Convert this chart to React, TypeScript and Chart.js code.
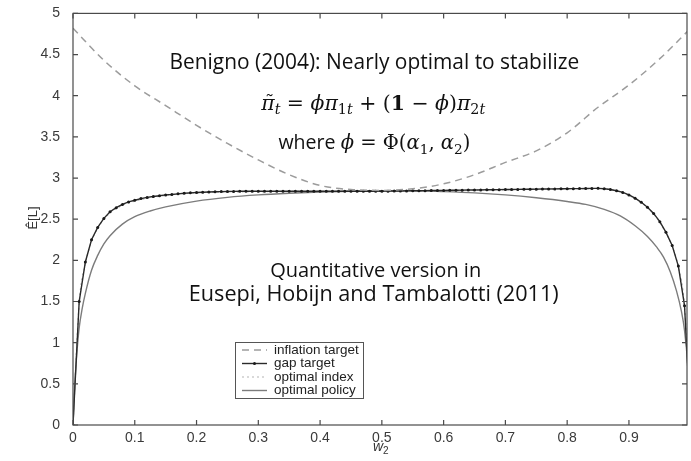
import React, { useEffect, useRef } from "react";
import { Chart, registerables } from "chart.js";

Chart.register(...registerables);

const W = 691;
const H = 461;

// ---- axes ----
const xTicks = [0, 0.1, 0.2, 0.3, 0.4, 0.5, 0.6, 0.7, 0.8, 0.9];
const yTicks = [0, 0.5, 1, 1.5, 2, 2.5, 3, 3.5, 4, 4.5, 5];
const xTitle = "w";
const xTitleSub = "2";
const yTitle = "Ê[L]";

// ---- series ----
const inflationX = [0, 0.05, 0.1, 0.15, 0.2, 0.25, 0.3, 0.35, 0.4, 0.45, 0.5, 0.55, 0.6, 0.65, 0.7, 0.75, 0.8, 0.85, 0.9, 0.95, 1.0];
const inflationY = [4.82, 4.43, 4.12, 3.88, 3.64, 3.42, 3.22, 3.04, 2.91, 2.86, 2.85, 2.87, 2.93, 3.04, 3.19, 3.33, 3.55, 3.86, 4.13, 4.45, 4.82];

const gapX = [
  0, 0.01, 0.02, 0.03, 0.04, 0.05, 0.06, 0.07, 0.08, 0.09,
  0.1, 0.11, 0.12, 0.13, 0.14, 0.15, 0.16, 0.17, 0.18, 0.19,
  0.2, 0.21, 0.22, 0.23, 0.24, 0.25, 0.26, 0.27, 0.28, 0.29,
  0.3, 0.31, 0.32, 0.33, 0.34, 0.35, 0.36, 0.37, 0.38, 0.39,
  0.4, 0.41, 0.42, 0.43, 0.44, 0.45, 0.46, 0.47, 0.48, 0.49,
  0.5, 0.51, 0.52, 0.53, 0.54, 0.55, 0.56, 0.57, 0.58, 0.59,
  0.6, 0.61, 0.62, 0.63, 0.64, 0.65, 0.66, 0.67, 0.68, 0.69,
  0.7, 0.71, 0.72, 0.73, 0.74, 0.75, 0.76, 0.77, 0.78, 0.79,
  0.8, 0.81, 0.82, 0.83, 0.84, 0.85, 0.86, 0.87, 0.88, 0.89,
  0.9, 0.91, 0.92, 0.93, 0.94, 0.95, 0.96, 0.97, 0.98, 0.99, 1.0,
];
const gapY = [
  0, 1.5, 1.98, 2.25, 2.4, 2.51, 2.59, 2.64, 2.68, 2.71,
  2.73, 2.75, 2.765, 2.775, 2.785, 2.795, 2.8, 2.808, 2.815, 2.82,
  2.825, 2.828, 2.831, 2.833, 2.835, 2.837, 2.838, 2.839, 2.84, 2.84,
  2.84, 2.84, 2.84, 2.84, 2.84, 2.84, 2.84, 2.84, 2.84, 2.84,
  2.84, 2.84, 2.84, 2.84, 2.84, 2.84, 2.84, 2.84, 2.84, 2.84,
  2.84, 2.841, 2.842, 2.843, 2.844, 2.845, 2.846, 2.847, 2.848, 2.849,
  2.85, 2.851, 2.852, 2.853, 2.854, 2.855, 2.856, 2.857, 2.858, 2.859,
  2.86, 2.861, 2.862, 2.863, 2.864, 2.865, 2.866, 2.867, 2.868, 2.869,
  2.87, 2.871, 2.872, 2.873, 2.874, 2.875, 2.87, 2.86, 2.845, 2.825,
  2.795, 2.755, 2.705, 2.645, 2.57, 2.47, 2.34, 2.18, 1.93, 1.45, 0,
];

const indexX = [0, 0.01, 0.02, 0.03, 0.05, 0.08, 0.1, 0.15, 0.2, 0.3, 0.4, 0.5, 0.6, 0.7, 0.8, 0.85, 0.9, 0.93, 0.95, 0.97, 0.98, 0.99, 1.0];
const indexY = [0, 1.48, 1.96, 2.23, 2.5, 2.67, 2.72, 2.79, 2.82, 2.835, 2.838, 2.84, 2.848, 2.858, 2.868, 2.872, 2.79, 2.64, 2.46, 2.17, 1.92, 1.44, 0];

const policyX = [0, 0.003, 0.006, 0.01, 0.015, 0.02, 0.03, 0.04, 0.05, 0.06, 0.08, 0.1, 0.125, 0.15, 0.2, 0.25, 0.3, 0.35, 0.4, 0.45, 0.5, 0.55, 0.6, 0.65, 0.7, 0.75, 0.8, 0.83, 0.86, 0.886, 0.91, 0.93, 0.945, 0.956, 0.967, 0.977, 0.985, 0.99, 0.995, 1.0];
const policyY = [0, 0.5, 0.85, 1.18, 1.42, 1.6, 1.88, 2.06, 2.2, 2.3, 2.44, 2.53, 2.6, 2.65, 2.72, 2.765, 2.795, 2.815, 2.83, 2.84, 2.845, 2.845, 2.835, 2.82, 2.795, 2.76, 2.715, 2.68, 2.62, 2.54, 2.42, 2.29, 2.16, 2.04, 1.86, 1.63, 1.38, 1.15, 0.75, 0];

const seriesNames = ["inflation target", "gap target", "optimal index", "optimal policy"];

const headline = "Benigno (2004): Nearly optimal to stabilize";
const noteLine1 = "Quantitative version in";
const noteLine2 = "Eusepi, Hobijn and Tambalotti (2011)";

const pts = (xs: number[], ys: number[]) => xs.map((x, i) => ({ x, y: ys[i] }));

const SANS = "Open Sans";
const MATH = "DejaVu Serif";
const TICKF = "Liberation Sans";

type Seg = { t: string; fam: string; it?: boolean; bold?: boolean; sc?: number; dy?: number; accent?: string };

function segFont(s: Seg, size: number) {
  return `${s.it ? "italic " : ""}${s.bold ? "bold " : ""}${(size * (s.sc || 1)).toFixed(2)}px "${s.fam}"`;
}

function drawRich(ctx: CanvasRenderingContext2D, segs: Seg[], cx: number, base: number, targetW: number) {
  const probe = 20;
  let w = 0;
  for (const s of segs) {
    ctx.font = segFont(s, probe);
    w += ctx.measureText(s.t).width;
  }
  const size = (probe * targetW) / w;
  let x = cx - targetW / 2;
  ctx.textAlign = "left";
  ctx.textBaseline = "alphabetic";
  for (const s of segs) {
    ctx.font = segFont(s, size);
    const sw = ctx.measureText(s.t).width;
    ctx.fillText(s.t, x, base + (s.dy || 0) * size);
    if (s.accent) {
      ctx.font = `${(size * 0.9).toFixed(2)}px "${MATH}"`;
      const aw = ctx.measureText(s.accent).width;
      ctx.fillText(s.accent, x + sw / 2 - aw / 2 + size * 0.08, base - size * 0.1);
    }
    x += sw;
  }
}

const framePlugin = {
  id: "frame",
  afterDatasetsDraw(chart: any) {
    const { ctx, chartArea: a, scales } = chart;
    ctx.save();
    ctx.strokeStyle = "#4a4a4a";
    ctx.lineWidth = 1.2;
    ctx.strokeRect(a.left, a.top, a.right - a.left, a.bottom - a.top);
    const L = 5;
    ctx.beginPath();
    xTicks.forEach((v) => {
      const px = scales.x.getPixelForValue(v);
      ctx.moveTo(px, a.bottom);
      ctx.lineTo(px, a.bottom - L);
      ctx.moveTo(px, a.top);
      ctx.lineTo(px, a.top + L);
    });
    yTicks.forEach((v) => {
      const py = scales.y.getPixelForValue(v);
      ctx.moveTo(a.left, py);
      ctx.lineTo(a.left + L, py);
      ctx.moveTo(a.right, py);
      ctx.lineTo(a.right - L, py);
    });
    ctx.stroke();
    ctx.restore();
  },
};

const textPlugin = {
  id: "texts",
  afterDraw(chart: any) {
    const { ctx, scales, chartArea: a } = chart;
    const X = (v: number) => scales.x.getPixelForValue(v);
    const Y = (v: number) => scales.y.getPixelForValue(v);
    ctx.save();
    ctx.fillStyle = "#111";

    // headline and notes
    drawRich(ctx, [{ t: headline, fam: SANS }], X(0.488), Y(4.33), 410);
    drawRich(
      ctx,
      [
        { t: "π", fam: MATH, it: true, accent: "˜" },
        { t: "t", fam: MATH, it: true, sc: 0.7, dy: 0.22 },
        { t: " = ", fam: MATH },
        { t: "ϕπ", fam: MATH, it: true },
        { t: "1", fam: MATH, sc: 0.7, dy: 0.22 },
        { t: "t", fam: MATH, it: true, sc: 0.7, dy: 0.22 },
        { t: " + (", fam: MATH },
        { t: "1", fam: MATH, bold: true },
        { t: " − ", fam: MATH },
        { t: "ϕ", fam: MATH, it: true },
        { t: ")", fam: MATH },
        { t: "π", fam: MATH, it: true },
        { t: "2", fam: MATH, sc: 0.7, dy: 0.22 },
        { t: "t", fam: MATH, it: true, sc: 0.7, dy: 0.22 },
      ],
      X(0.486),
      Y(3.83),
      224
    );
    drawRich(
      ctx,
      [
        { t: "where ", fam: SANS },
        { t: "ϕ", fam: MATH, it: true },
        { t: " = Φ(", fam: MATH },
        { t: "α", fam: MATH, it: true },
        { t: "1", fam: MATH, sc: 0.7, dy: 0.22 },
        { t: ", ", fam: MATH },
        { t: "α", fam: MATH, it: true },
        { t: "2", fam: MATH, sc: 0.7, dy: 0.22 },
        { t: ")", fam: MATH },
      ],
      X(0.488),
      Y(3.35),
      192
    );
    drawRich(ctx, [{ t: noteLine1, fam: SANS }], X(0.49), Y(1.8), 211);
    drawRich(ctx, [{ t: noteLine2, fam: SANS }], X(0.487), Y(1.505), 370);

    // axis titles
    ctx.fillStyle = "#333";
    ctx.textAlign = "center";
    ctx.textBaseline = "alphabetic";
    ctx.font = `italic 14px "${TICKF}"`;
    const cx = (a.left + a.right) / 2 + 1;
    const wW = ctx.measureText(xTitle).width;
    ctx.fillText(xTitle, cx - 3, 451);
    ctx.font = `10px "${TICKF}"`;
    ctx.textAlign = "left";
    ctx.fillText(xTitleSub, cx - 3 + wW / 2, 454);

    ctx.save();
    ctx.translate(37, 218);
    ctx.rotate(-Math.PI / 2);
    ctx.textAlign = "center";
    ctx.font = `13px "${TICKF}"`;
    ctx.fillText(yTitle, 0, 0);
    ctx.restore();

    // legend
    const bx = 235, by = 342, bw = 128, bh = 56;
    ctx.fillStyle = "#fff";
    ctx.fillRect(bx, by, bw, bh);
    ctx.strokeStyle = "#555";
    ctx.lineWidth = 1;
    ctx.strokeRect(bx + 0.5, by + 0.5, bw, bh);
    const rows = [350, 363.5, 377, 390.5];
    chart.data.datasets.forEach((ds: any, i: number) => {
      const y = rows[i];
      ctx.save();
      ctx.strokeStyle = ds.borderColor;
      ctx.lineWidth = ds.borderWidth;
      ctx.setLineDash(ds.borderDash || []);
      ctx.beginPath();
      ctx.moveTo(242, y);
      ctx.lineTo(267, y);
      ctx.stroke();
      if (ds.pointRadius > 0) {
        ctx.fillStyle = ds.pointBackgroundColor;
        ctx.beginPath();
        ctx.arc(254.5, y, ds.pointRadius, 0, Math.PI * 2);
        ctx.fill();
      }
      ctx.restore();
      ctx.fillStyle = "#222";
      ctx.font = `13.5px "${TICKF}"`;
      ctx.textAlign = "left";
      ctx.textBaseline = "middle";
      ctx.fillText(ds.label, 274, y);
    });
    ctx.restore();
  },
};

export default function App() {
  const ref = useRef<HTMLCanvasElement>(null);
  useEffect(() => {
    const canvas = ref.current;
    if (!canvas) return;
    const chart = new Chart(canvas, {
      type: "line",
      data: {
        datasets: [
          {
            label: seriesNames[0],
            data: pts(inflationX, inflationY),
            borderColor: "#9c9c9c",
            borderWidth: 1.5,
            borderDash: [7, 5],
            pointRadius: 0,
            cubicInterpolationMode: "monotone",
          },
          {
            label: seriesNames[1],
            data: pts(gapX, gapY),
            borderColor: "#2a2a2a",
            borderWidth: 1.4,
            pointRadius: 1.5,
            pointBackgroundColor: "#1a1a1a",
            pointBorderWidth: 0,
            tension: 0,
          },
          {
            label: seriesNames[2],
            data: pts(indexX, indexY),
            borderColor: "#b4b4b4",
            borderWidth: 1.2,
            borderDash: [2, 3],
            pointRadius: 0,
            cubicInterpolationMode: "monotone",
          },
          {
            label: seriesNames[3],
            data: pts(policyX, policyY),
            borderColor: "#7c7c7c",
            borderWidth: 1.4,
            pointRadius: 0,
            cubicInterpolationMode: "monotone",
          },
        ] as any,
      },
      options: {
        animation: false,
        responsive: false,
        devicePixelRatio: 1,
        layout: { padding: { top: 12, right: 1, left: 0, bottom: 0 } },
        plugins: { legend: { display: false }, tooltip: { enabled: false }, title: { display: false } },
        scales: {
          x: {
            type: "linear",
            min: 0,
            max: 0.994,
            grid: { display: false },
            border: { display: false },
            afterBuildTicks: (s: any) => {
              s.ticks = xTicks.map((v) => ({ value: v }));
            },
            afterFit: (s: any) => {
              s.height = 36;
            },
            ticks: {
              padding: -3,
              autoSkip: false,
              maxRotation: 0,
              color: "#3a3a3a",
              font: { family: TICKF, size: 14 },
              callback: (v: any) => String(v),
            },
          },
          y: {
            type: "linear",
            min: 0,
            max: 5,
            grid: { display: false },
            border: { display: false },
            afterBuildTicks: (s: any) => {
              s.ticks = yTicks.map((v) => ({ value: v }));
            },
            afterFit: (s: any) => {
              s.width = 73;
            },
            ticks: {
              padding: 5,
              color: "#3a3a3a",
              font: { family: TICKF, size: 14 },
              callback: (v: any) => String(v),
            },
          },
        },
      } as any,
      plugins: [framePlugin, textPlugin],
    });
    return () => chart.destroy();
  }, []);
  return (
    <div style={{ position: "fixed", left: 0, top: 0, width: W, height: H, background: "#fff" }}>
      <canvas ref={ref} width={W} height={H} style={{ display: "block", width: W, height: H }} />
    </div>
  );
}
